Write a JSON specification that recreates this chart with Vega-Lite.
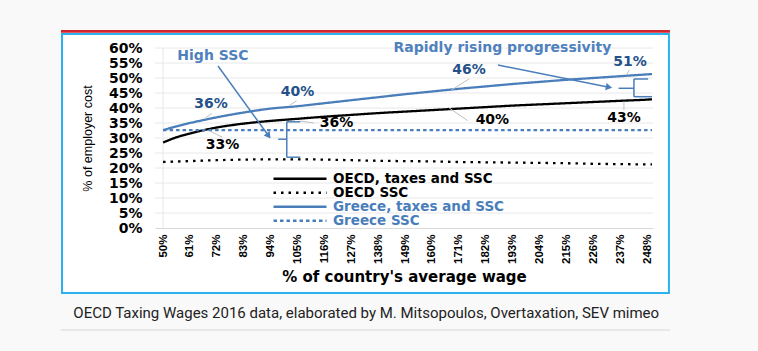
{
  "$schema": "https://vega.github.io/schema/vega-lite/v6.json",
  "autosize": {"type": "none"},
  "padding": {"left": 155, "top": 48, "right": 105, "bottom": 123},
  "width": 498,
  "height": 180,
  "background": "#f9f9f9",
  "view": {"stroke": null},
  "config": {"axis": {"labelOverlap": false, "labelFlush": false, "labelBound": false}},
  "datasets": {
    "lines": [
      {"wage": 50, "pct": 28.5, "series": "OECD, taxes and SSC"},
      {"wage": 55, "pct": 30.1, "series": "OECD, taxes and SSC"},
      {"wage": 61, "pct": 31.5, "series": "OECD, taxes and SSC"},
      {"wage": 66, "pct": 32.5, "series": "OECD, taxes and SSC"},
      {"wage": 72, "pct": 33.5, "series": "OECD, taxes and SSC"},
      {"wage": 83, "pct": 34.8, "series": "OECD, taxes and SSC"},
      {"wage": 94, "pct": 35.7, "series": "OECD, taxes and SSC"},
      {"wage": 105, "pct": 36.4, "series": "OECD, taxes and SSC"},
      {"wage": 116, "pct": 37.1, "series": "OECD, taxes and SSC"},
      {"wage": 127, "pct": 37.7, "series": "OECD, taxes and SSC"},
      {"wage": 138, "pct": 38.3, "series": "OECD, taxes and SSC"},
      {"wage": 149, "pct": 38.8, "series": "OECD, taxes and SSC"},
      {"wage": 160, "pct": 39.3, "series": "OECD, taxes and SSC"},
      {"wage": 171, "pct": 39.8, "series": "OECD, taxes and SSC"},
      {"wage": 182, "pct": 40.3, "series": "OECD, taxes and SSC"},
      {"wage": 193, "pct": 40.8, "series": "OECD, taxes and SSC"},
      {"wage": 204, "pct": 41.2, "series": "OECD, taxes and SSC"},
      {"wage": 215, "pct": 41.6, "series": "OECD, taxes and SSC"},
      {"wage": 226, "pct": 42.0, "series": "OECD, taxes and SSC"},
      {"wage": 237, "pct": 42.4, "series": "OECD, taxes and SSC"},
      {"wage": 248, "pct": 42.8, "series": "OECD, taxes and SSC"},
      {"wage": 250, "pct": 42.9, "series": "OECD, taxes and SSC"},

      {"wage": 50, "pct": 22.0, "series": "OECD SSC"},
      {"wage": 61, "pct": 22.3, "series": "OECD SSC"},
      {"wage": 72, "pct": 22.6, "series": "OECD SSC"},
      {"wage": 83, "pct": 22.8, "series": "OECD SSC"},
      {"wage": 94, "pct": 22.9, "series": "OECD SSC"},
      {"wage": 105, "pct": 22.9, "series": "OECD SSC"},
      {"wage": 116, "pct": 22.8, "series": "OECD SSC"},
      {"wage": 127, "pct": 22.6, "series": "OECD SSC"},
      {"wage": 138, "pct": 22.4, "series": "OECD SSC"},
      {"wage": 149, "pct": 22.3, "series": "OECD SSC"},
      {"wage": 160, "pct": 22.2, "series": "OECD SSC"},
      {"wage": 171, "pct": 22.0, "series": "OECD SSC"},
      {"wage": 182, "pct": 21.9, "series": "OECD SSC"},
      {"wage": 193, "pct": 21.8, "series": "OECD SSC"},
      {"wage": 204, "pct": 21.7, "series": "OECD SSC"},
      {"wage": 215, "pct": 21.6, "series": "OECD SSC"},
      {"wage": 226, "pct": 21.4, "series": "OECD SSC"},
      {"wage": 237, "pct": 21.3, "series": "OECD SSC"},
      {"wage": 248, "pct": 21.2, "series": "OECD SSC"},
      {"wage": 250, "pct": 21.2, "series": "OECD SSC"},

      {"wage": 50, "pct": 32.6, "series": "Greece, taxes and SSC"},
      {"wage": 55, "pct": 33.8, "series": "Greece, taxes and SSC"},
      {"wage": 61, "pct": 35.0, "series": "Greece, taxes and SSC"},
      {"wage": 66, "pct": 35.9, "series": "Greece, taxes and SSC"},
      {"wage": 72, "pct": 36.9, "series": "Greece, taxes and SSC"},
      {"wage": 83, "pct": 38.5, "series": "Greece, taxes and SSC"},
      {"wage": 94, "pct": 39.8, "series": "Greece, taxes and SSC"},
      {"wage": 105, "pct": 40.6, "series": "Greece, taxes and SSC"},
      {"wage": 116, "pct": 41.6, "series": "Greece, taxes and SSC"},
      {"wage": 127, "pct": 42.6, "series": "Greece, taxes and SSC"},
      {"wage": 138, "pct": 43.6, "series": "Greece, taxes and SSC"},
      {"wage": 149, "pct": 44.6, "series": "Greece, taxes and SSC"},
      {"wage": 160, "pct": 45.5, "series": "Greece, taxes and SSC"},
      {"wage": 171, "pct": 46.4, "series": "Greece, taxes and SSC"},
      {"wage": 182, "pct": 47.2, "series": "Greece, taxes and SSC"},
      {"wage": 193, "pct": 48.0, "series": "Greece, taxes and SSC"},
      {"wage": 204, "pct": 48.7, "series": "Greece, taxes and SSC"},
      {"wage": 215, "pct": 49.4, "series": "Greece, taxes and SSC"},
      {"wage": 226, "pct": 50.0, "series": "Greece, taxes and SSC"},
      {"wage": 237, "pct": 50.6, "series": "Greece, taxes and SSC"},
      {"wage": 248, "pct": 51.2, "series": "Greece, taxes and SSC"},
      {"wage": 250, "pct": 51.3, "series": "Greece, taxes and SSC"},

      {"wage": 50, "pct": 32.6, "series": "Greece SSC"},
      {"wage": 72, "pct": 32.6, "series": "Greece SSC"},
      {"wage": 94, "pct": 32.6, "series": "Greece SSC"},
      {"wage": 116, "pct": 32.6, "series": "Greece SSC"},
      {"wage": 138, "pct": 32.6, "series": "Greece SSC"},
      {"wage": 160, "pct": 32.6, "series": "Greece SSC"},
      {"wage": 182, "pct": 32.6, "series": "Greece SSC"},
      {"wage": 204, "pct": 32.6, "series": "Greece SSC"},
      {"wage": 226, "pct": 32.6, "series": "Greece SSC"},
      {"wage": 248, "pct": 32.6, "series": "Greece SSC"},
      {"wage": 250, "pct": 32.6, "series": "Greece SSC"}
    ],
    "grid": [
      {"g": 5}, {"g": 10}, {"g": 15}, {"g": 20}, {"g": 25}, {"g": 30},
      {"g": 35}, {"g": 40}, {"g": 45}, {"g": 50}, {"g": 55}, {"g": 60}
    ],
    "labels": [
      {"w": 69.6, "v": 41.3, "text": "36%", "kind": "blue"},
      {"w": 105.0, "v": 45.2, "text": "40%", "kind": "blue"},
      {"w": 175.1, "v": 52.7, "text": "46%", "kind": "blue"},
      {"w": 241.0, "v": 55.3, "text": "51%", "kind": "blue"},
      {"w": 120.9, "v": 35.0, "text": "36%", "kind": "black"},
      {"w": 74.3, "v": 27.8, "text": "33%", "kind": "black"},
      {"w": 184.7, "v": 36.0, "text": "40%", "kind": "black"},
      {"w": 238.5, "v": 36.7, "text": "43%", "kind": "black"}
    ],
    "notes": [
      {"w": 70.4, "v": 57.3, "text": "High SSC"},
      {"w": 188.8, "v": 60.0, "text": "Rapidly rising progressivity"}
    ],
    "leaders": [
      {"w1": 67.2, "v1": 36.6, "w2": 70.0, "v2": 38.2},
      {"w1": 101.9, "v1": 41.0, "w2": 104.6, "v2": 42.4},
      {"w1": 168.0, "v1": 46.0, "w2": 175.2, "v2": 49.7},
      {"w1": 239.6, "v1": 51.0, "w2": 240.7, "v2": 52.7},
      {"w1": 106.0, "v1": 35.67, "w2": 111.7, "v2": 35.0},
      {"w1": 69.2, "v1": 32.3, "w2": 74.1, "v2": 30.3},
      {"w1": 166.7, "v1": 40.2, "w2": 174.6, "v2": 35.8},
      {"w1": 238.5, "v1": 42.1, "w2": 238.5, "v2": 39.3}
    ],
    "brackets": [
      {"w1": 100.6, "v1": 35.4, "w2": 100.6, "v2": 23.6},
      {"w1": 100.6, "v1": 35.4, "w2": 106.1, "v2": 35.4},
      {"w1": 100.6, "v1": 23.6, "w2": 106.1, "v2": 23.6},
      {"w1": 97.1, "v1": 29.6, "w2": 100.6, "v2": 29.6},
      {"w1": 242.6, "v1": 49.67, "w2": 242.6, "v2": 43.77},
      {"w1": 242.6, "v1": 49.67, "w2": 248.4, "v2": 49.67},
      {"w1": 242.6, "v1": 43.77, "w2": 250.0, "v2": 43.77},
      {"w1": 236.3, "v1": 46.57, "w2": 242.6, "v2": 46.57},
      {"w1": 72.47, "v1": 54.0, "w2": 93.16, "v2": 30.73},
      {"w1": 186.99, "v1": 54.33, "w2": 232.4, "v2": 46.93}
    ]
  },
  "layer": [
    {
      "data": {"values": [{}]},
      "mark": {"type": "rect", "fill": "#ffffff", "stroke": "#2bb2ee", "strokeWidth": 2},
      "encoding": {
        "x": {"datum": 8.66, "type": "quantitative"},
        "x2": {"datum": 256.92},
        "y": {"datum": 64.67, "type": "quantitative"},
        "y2": {"datum": -21.67}
      }
    },
    {
      "data": {"values": [{}]},
      "mark": {"type": "rule", "stroke": "#d3262c", "strokeWidth": 2.7},
      "encoding": {
        "x": {"datum": 8.25, "type": "quantitative"},
        "x2": {"datum": 257.33},
        "y": {"datum": 65.57, "type": "quantitative"}
      }
    },
    {
      "data": {"values": [{}]},
      "mark": {"type": "rule", "stroke": "#e2e2e2", "strokeWidth": 1.5},
      "encoding": {
        "x": {"datum": 8.25, "type": "quantitative"},
        "x2": {"datum": 257.33},
        "y": {"datum": -34, "type": "quantitative"}
      }
    },
    {
      "data": {"values": [{"t": "OECD Taxing Wages 2016 data, elaborated by M. Mitsopoulos, Overtaxation, SEV mimeo"}]},
      "mark": {"type": "text", "font": "Roboto", "fontSize": 15, "fill": "#222222", "align": "center", "baseline": "middle"},
      "encoding": {
        "x": {"datum": 133.1, "type": "quantitative"},
        "y": {"datum": -28.3, "type": "quantitative"},
        "text": {"field": "t"}
      }
    },
    {
      "data": {"name": "grid"},
      "mark": {"type": "rule", "stroke": "#e8e8e8", "strokeWidth": 1},
      "encoding": {
        "x": {"datum": 46.7, "type": "quantitative"},
        "x2": {"datum": 250.4},
        "y": {"field": "g", "type": "quantitative"}
      }
    },
    {
      "data": {"values": [{}]},
      "mark": {"type": "rule", "stroke": "#e6e6e6", "strokeWidth": 1},
      "encoding": {
        "x": {"datum": 50, "type": "quantitative"},
        "y": {"datum": 0, "type": "quantitative"},
        "y2": {"datum": 60}
      }
    },
    {
      "data": {"name": "lines"},
      "mark": {"type": "line", "interpolate": "monotone", "strokeWidth": 2.3},
      "encoding": {
        "x": {
          "field": "wage", "type": "quantitative",
          "scale": {"domain": [46.7, 250.4], "nice": false, "zero": false},
          "axis": {
            "values": [50, 61, 72, 83, 94, 105, 116, 127, 138, 149, 160, 171, 182, 193, 204, 215, 226, 237, 248],
            "tickCount": 100,
            "labelExpr": "datum.value + '%'",
            "labelAngle": -90,
            "labelFont": "Liberation Sans",
            "labelFontWeight": "bold",
            "labelFontSize": 11.5,
            "labelColor": "#000000",
            "labelPadding": 6,
            "labelOverlap": false,
            "labelFlush": false,
            "ticks": false,
            "grid": false,
            "domain": true,
            "domainColor": "#d9d9d9",
            "title": "% of country's average wage",
            "titleFont": "DejaVu Sans",
            "titleFontSize": 15,
            "titleFontWeight": "bold",
            "titleColor": "#000000",
            "titleX": 249,
            "titleY": 53.5,
            "titleAlign": "center",
            "titleBaseline": "alphabetic",
            "zindex": 1
          }
        },
        "y": {
          "field": "pct", "type": "quantitative",
          "scale": {"domain": [0, 60], "nice": false, "zero": false},
          "axis": {
            "values": [0, 5, 10, 15, 20, 25, 30, 35, 40, 45, 50, 55, 60],
            "tickCount": 100,
            "labelExpr": "datum.value + '%'",
            "labelFont": "DejaVu Sans",
            "labelFontWeight": "bold",
            "labelFontSize": 14,
            "labelColor": "#000000",
            "labelPadding": 13,
            "labelOverlap": false,
            "ticks": false,
            "domain": false,
            "grid": false,
            "title": "% of employer cost",
            "titleFont": "Liberation Sans",
            "titleFontWeight": "normal",
            "titleFontSize": 12.5,
            "titleColor": "#000000",
            "titleAngle": -90,
            "titleX": -63.5,
            "titleY": 90,
            "titleAlign": "center",
            "titleBaseline": "alphabetic",
            "zindex": 1
          }
        },
        "color": {
          "field": "series", "type": "nominal",
          "scale": {
            "domain": ["OECD, taxes and SSC", "OECD SSC", "Greece, taxes and SSC", "Greece SSC"],
            "range": ["#000000", "#000000", "#4a7ebb", "#4a7ebb"]
          },
          "legend": {
            "orient": "none", "legendX": 117, "legendY": 124, "title": null,
            "symbolType": "stroke", "symbolSize": 2809, "symbolStrokeWidth": 2.5,
            "labelFont": "DejaVu Sans", "labelFontWeight": "bold", "labelFontSize": 13.5,
            "labelOffset": 5, "rowPadding": -3.5, "clipHeight": 13.5, "labelLimit": 0, "padding": 0, "symbolOffset": 0,
            "encode": {"labels": {"update": {"fill": {"signal": "test(/^Greece/, datum.label) ? '#4a7ebb' : '#000000'"}}}}
          }
        },
        "strokeDash": {
          "field": "series", "type": "nominal",
          "scale": {
            "domain": ["OECD, taxes and SSC", "OECD SSC", "Greece, taxes and SSC", "Greece SSC"],
            "range": [[1, 0], [2.5, 5], [1, 0], [3.5, 3]]
          },
          "legend": {
            "orient": "none", "legendX": 117, "legendY": 124, "title": null,
            "symbolType": "stroke", "symbolSize": 2809, "symbolStrokeWidth": 2.5,
            "labelFont": "DejaVu Sans", "labelFontWeight": "bold", "labelFontSize": 13.5,
            "labelOffset": 5, "rowPadding": -3.5, "clipHeight": 13.5, "labelLimit": 0, "padding": 0, "symbolOffset": 0,
            "encode": {"labels": {"update": {"fill": {"signal": "test(/^Greece/, datum.label) ? '#4a7ebb' : '#000000'"}}}}
          }
        }
      }
    },
    {
      "data": {"name": "leaders"},
      "mark": {"type": "rule", "stroke": "#c0c0c0", "strokeWidth": 1},
      "encoding": {
        "x": {"field": "w1", "type": "quantitative"},
        "y": {"field": "v1", "type": "quantitative"},
        "x2": {"field": "w2"},
        "y2": {"field": "v2"}
      }
    },
    {
      "data": {"name": "brackets"},
      "mark": {"type": "rule", "stroke": "#4a7ebb", "strokeWidth": 1.5},
      "encoding": {
        "x": {"field": "w1", "type": "quantitative"},
        "y": {"field": "v1", "type": "quantitative"},
        "x2": {"field": "w2"},
        "y2": {"field": "v2"}
      }
    },
    {
      "data": {"values": [{"w": 93.16, "v": 30.73}]},
      "mark": {"type": "point", "shape": "triangle-down", "angle": 324, "size": 55, "filled": true, "fill": "#4a7ebb", "opacity": 1},
      "encoding": {
        "x": {"field": "w", "type": "quantitative"},
        "y": {"field": "v", "type": "quantitative"}
      }
    },
    {
      "data": {"values": [{"w": 232.4, "v": 46.93}]},
      "mark": {"type": "point", "shape": "triangle-right", "angle": 11.3, "size": 55, "filled": true, "fill": "#4a7ebb", "opacity": 1},
      "encoding": {
        "x": {"field": "w", "type": "quantitative"},
        "y": {"field": "v", "type": "quantitative"}
      }
    },
    {
      "data": {"name": "labels"},
      "mark": {"type": "text", "font": "DejaVu Sans", "fontWeight": "bold", "fontSize": 14, "align": "center", "baseline": "middle"},
      "encoding": {
        "x": {"field": "w", "type": "quantitative"},
        "y": {"field": "v", "type": "quantitative"},
        "text": {"field": "text"},
        "color": {"condition": {"test": "datum.kind == 'blue'", "value": "#25508a"}, "value": "#000000"}
      }
    },
    {
      "data": {"name": "notes"},
      "mark": {"type": "text", "font": "DejaVu Sans", "fontWeight": "bold", "fontSize": 14, "align": "center", "baseline": "middle", "fill": "#4f81bd"},
      "encoding": {
        "x": {"field": "w", "type": "quantitative"},
        "y": {"field": "v", "type": "quantitative"},
        "text": {"field": "text"}
      }
    }
  ]
}
